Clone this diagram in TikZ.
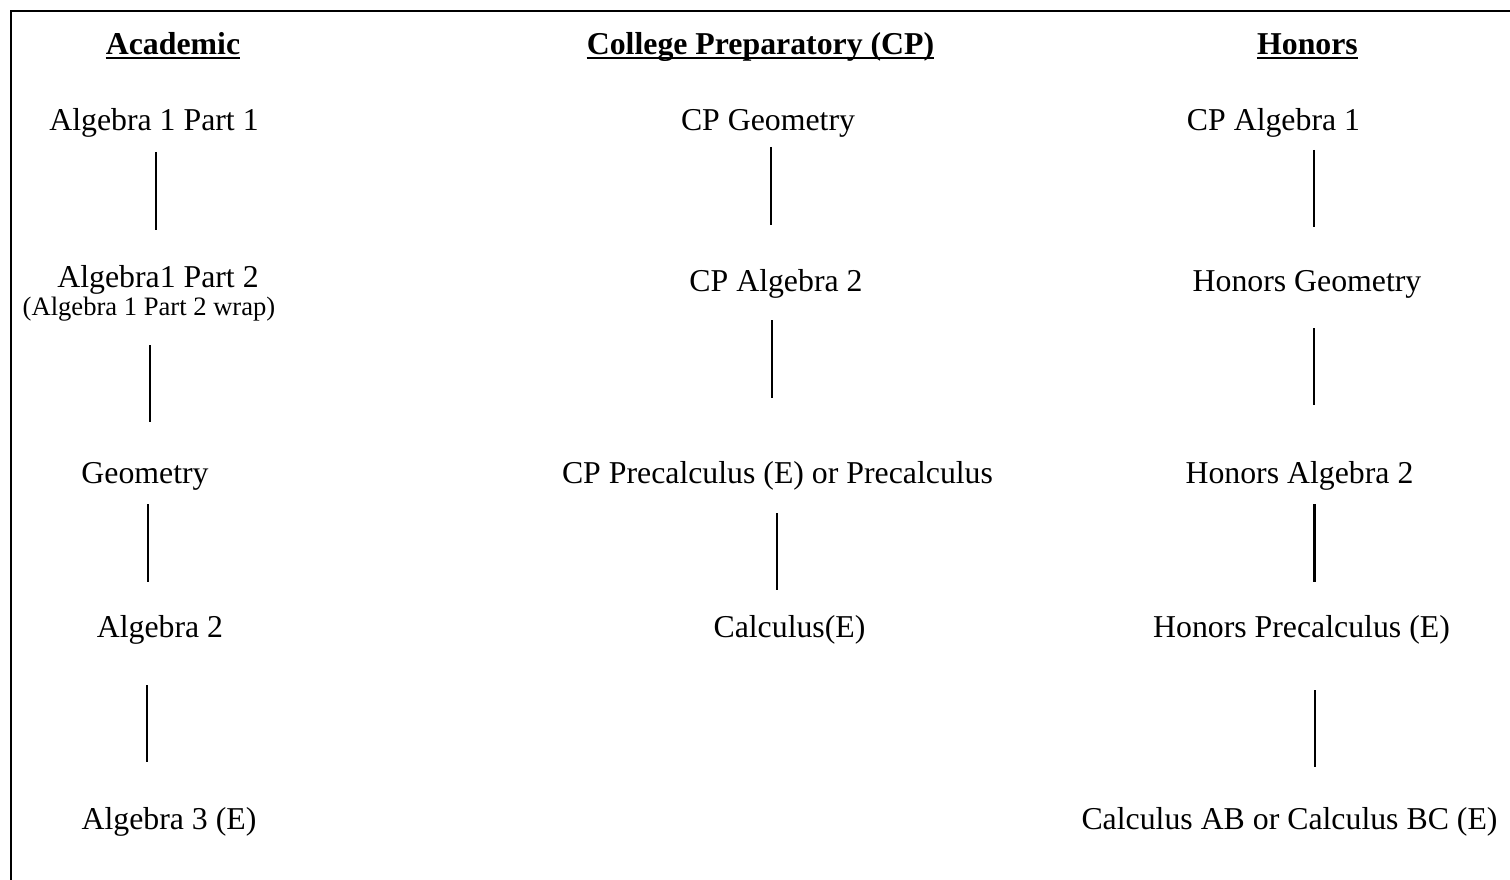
\documentclass[tikz,border=0pt]{standalone}
\usepackage{fontspec}
\setmainfont{Liberation Serif}
\begin{document}
\begin{tikzpicture}[x=1pt,y=-1pt,
  course/.style={anchor=base,inner sep=0pt,font=\fontsize{31.8}{38}\selectfont},
  note/.style={anchor=base,inner sep=0pt,font=\fontsize{26.6}{32}\selectfont},
  head/.style={anchor=base,inner sep=0pt,font=\fontsize{31.8}{38}\selectfont\bfseries},
  link/.style={line width=2.2pt,line cap=butt},
  uline/.style={line width=2pt},
  frameline/.style={line width=2.2pt}]
\useasboundingbox (0,0) rectangle (1510,880);
% frame (left and top edges)
\coordinate (fbl) at (11,880);
\coordinate (ftl) at (11,11);
\coordinate (ftr) at (1510,11);
\draw[frameline] (fbl) -- (ftl) -- (ftr);
% headers
\node[head] (hA) at (173,55) {Academic};
\node[head] (hC) at (760.5,55) {College Preparatory (CP)};
\node[head] (hH) at (1307.5,55) {Honors};
\foreach \h in {hA,hC,hH}{
  \draw[uline] ([yshift=-3pt]\h.base west) -- ([yshift=-3pt]\h.base east);
}
% Academic column
\node[course] (a1) at (154,131) {Algebra 1 Part 1};
\node[course] (a2) at (158,287) {Algebra1 Part 2};
\node[note] (a2w) at (149,315) {(Algebra 1 Part 2 wrap)};
\node[course] (a3) at (145,483) {Geometry};
\node[course] (a4) at (160,637) {Algebra 2};
\node[course] (a5) at (169,829) {Algebra 3 (E)};
% CP column
\node[course] (c1) at (768,131) {CP Geometry};
\node[course] (c2) at (776,291) {CP Algebra 2};
\node[course] (c3) at (777.5,483) {CP Precalculus (E) or Precalculus};
\node[course] (c4) at (789.5,637) {Calculus(E)};
% Honors column
\node[course] (h1) at (1273.5,131) {CP Algebra 1};
\node[course] (h2) at (1307,291) {Honors Geometry};
\node[course] (h3) at (1299.5,483) {Honors Algebra 2};
\node[course] (h4) at (1301.5,637) {Honors Precalculus (E)};
\node[course] (h5) at (1289.5,829) {Calculus AB or Calculus BC (E)};
% connectors
\draw[link] ([shift={(2,21)}]a1.base) -- ([shift={(-2,-57)}]a2.base);
\draw[link] ([shift={(1,30)}]a2w.base) -- ([shift={(5,-61)}]a3.base);
\draw[link] ([shift={(3,21)}]a3.base) -- ([shift={(-12,-55)}]a4.base);
\draw[link] ([shift={(-13,48)}]a4.base) -- ([shift={(-22,-67)}]a5.base);
\draw[link] ([shift={(3,16)}]c1.base) -- ([shift={(-5,-66)}]c2.base);
\draw[link] ([shift={(-4,29)}]c2.base) -- ([shift={(-5.5,-85)}]c3.base);
\draw[link] ([shift={(-0.5,30)}]c3.base) -- ([shift={(-12.5,-47)}]c4.base);
\draw[link] ([shift={(40.5,19)}]h1.base) -- ([shift={(7,-64)}]h2.base);
\draw[link] ([shift={(7,37)}]h2.base) -- ([shift={(14.5,-78)}]h3.base);
\draw[link] ([shift={(15,21)}]h3.base) -- ([shift={(13,-55)}]h4.base);
\draw[link] ([shift={(13.5,53)}]h4.base) -- ([shift={(25.5,-62)}]h5.base);
\end{tikzpicture}
\end{document}
